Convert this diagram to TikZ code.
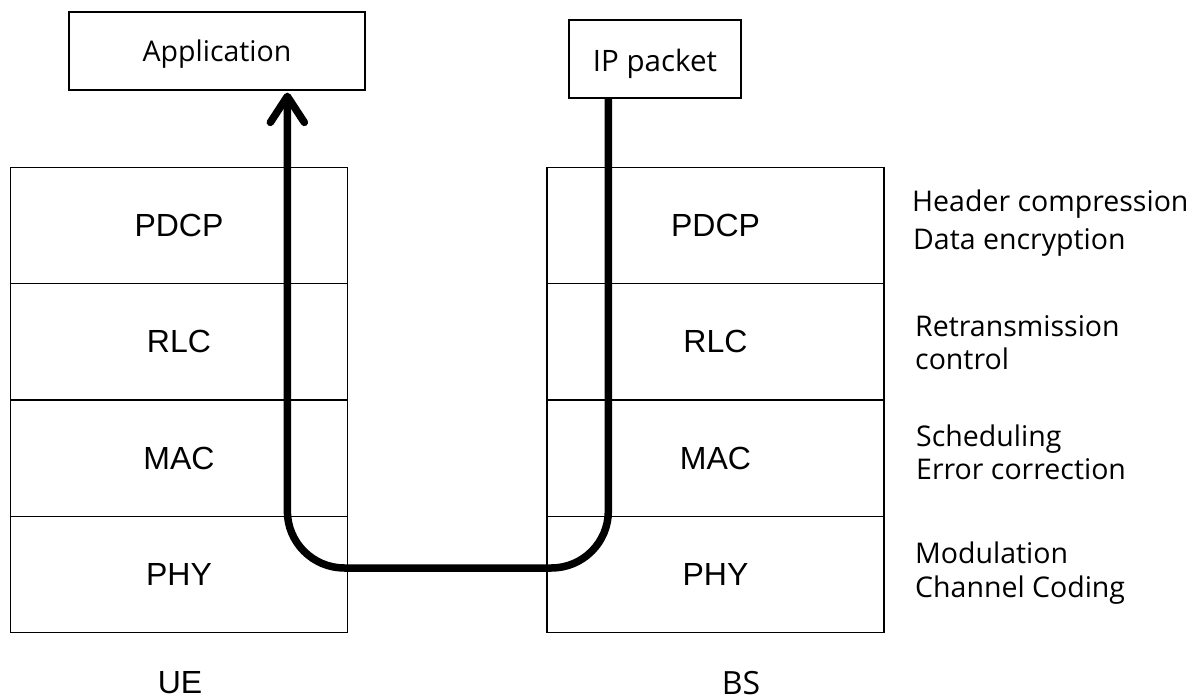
\documentclass[tikz,border=0pt]{standalone}
\usepackage{fontspec}
\setmainfont{Liberation Sans}
\newfontfamily\hfont{Open Sans}
\usetikzlibrary{arrows.meta,calc}
\begin{document}
\begin{tikzpicture}[x=1pt,y=-1pt,
  thinbox/.style={draw,line width=1.3pt,inner sep=0pt},
  layer/.style={thinbox,minimum width=337pt,minimum height=116.3pt,font=\fontsize{32}{38}\selectfont},
  lab/.style={anchor=base west,inner sep=0pt,font=\hfont\fontsize{28.5}{34}\selectfont},
  flow/.style={line width=7.5pt,rounded corners=57pt,line join=round}
]
\useasboundingbox (0,0) rectangle (1192,700);
% top boxes
\node[thinbox,minimum width=296pt,minimum height=78pt,text height=25pt,text depth=3pt,font=\hfont\fontsize{28.5}{32}\selectfont] (app) at (217,51) {Application};
\node[thinbox,minimum width=172pt,minimum height=78pt,text height=27pt,text depth=1pt,font=\hfont\fontsize{29.5}{34}\selectfont] (ip) at (655,59) {IP packet};
% UE stack
\node[layer] (uepdcp) at (179,225.5) {PDCP};
\node[layer] (uerlc) at (179,341.8) {RLC};
\node[layer] (uemac) at (179,458.1) {MAC};
\node[layer] (uephy) at (179,574.4) {PHY};
% BS stack
\node[layer] (bspdcp) at (715.5,225.5) {PDCP};
\node[layer] (bsrlc) at (715.5,341.8) {RLC};
\node[layer] (bsmac) at (715.5,458.1) {MAC};
\node[layer] (bsphy) at (715.5,574.4) {PHY};
% labels
\node[font=\fontsize{32}{38}\selectfont] (ue) at (180,683) {UE};
\node[font=\hfont\fontsize{32}{38}\selectfont] (bs) at (741,683) {BS};
% functions
\node[lab] (f1a) at (912,212) {Header compression};
\node[lab] (f1b) at (913,250) {Data encryption};
\node[lab] (f2a) at (915,337) {Retransmission};
\node[lab] (f2b) at (915,370) {control};
\node[lab] (f3a) at (916,447) {Scheduling};
\node[lab] (f3b) at (916,480) {Error correction};
\node[lab] (f4a) at (915,563) {Modulation};
\node[lab] (f4b) at (915,597) {Channel Coding};
% flow path
\coordinate (src) at ($(ip.south west)+(40,0)$);
\coordinate (dst) at ($(app.south west)+(219,2)$);
\coordinate (bottom) at (450,568);
\draw[flow,-{Straight Barb[length=26pt,width=34pt,line cap=round,line join=round]}]
  (src) |- (bottom) -| (dst);
\end{tikzpicture}
\end{document}
